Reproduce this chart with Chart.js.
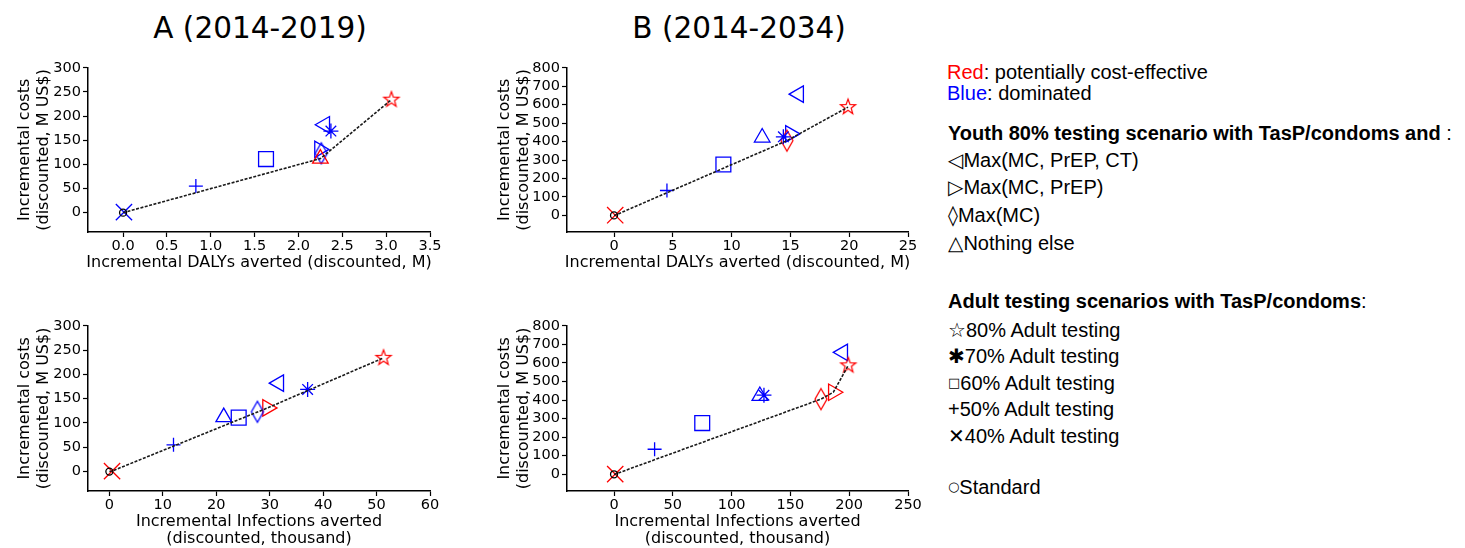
<!DOCTYPE html>
<html>
<head>
<meta charset="utf-8">
<script src="https://cdn.jsdelivr.net/npm/chart.js@4.4.1/dist/chart.umd.min.js"></script>
<style>
  body { margin: 0; background: #fff; overflow: hidden; }
  #page { position: relative; width: 1465px; height: 548px; }
  .panel { position: absolute; }
  .title { position: absolute; top: 10px; width: 400px; text-align: center; font-family: "DejaVu Sans"; font-size: 29.5px; line-height: 36px; color: #000; }
  .key { position: absolute; left: 948px; font-family: "Liberation Sans", Arial, "DejaVu Sans"; font-size: 20px; line-height: 22px; white-space: nowrap; color: #000; }
  .sym { font-family: "DejaVu Sans"; }
  .small { font-size: 13px; position: relative; top: -3px; }
</style>
</head>
<body>
<div id="page">
  <div class="title" style="left: 60px;">A (2014-2019)</div>
  <div class="title" style="left: 539px;">B (2014-2034)</div>

  <div class="panel" style="left: 0px; top: 55px; width: 445px; height: 230px;"><canvas id="dalysA"></canvas></div>
  <div class="panel" style="left: 480px; top: 55px; width: 445px; height: 230px;"><canvas id="dalysB"></canvas></div>
  <div class="panel" style="left: 0px; top: 313px; width: 445px; height: 245px;"><canvas id="infA"></canvas></div>
  <div class="panel" style="left: 480px; top: 313px; width: 445px; height: 245px;"><canvas id="infB"></canvas></div>

  <div class="key" style="top: 61px; left: 947px;"><span style="color:#f00">Red</span>: potentially cost-effective</div>
  <div class="key" style="top: 82px; left: 947px;"><span style="color:#00f">Blue</span>: dominated</div>
  <div class="key" style="top: 122px;"><b>Youth 80% testing scenario with TasP/condoms and</b> :</div>
  <div class="key" style="top: 149px;"><span class="sym">&#9665;</span>Max(MC, PrEP, CT)</div>
  <div class="key" style="top: 176px;"><span class="sym">&#9655;</span>Max(MC, PrEP)</div>
  <div class="key" style="top: 204px;"><span class="sym">&#9674;</span>Max(MC)</div>
  <div class="key" style="top: 232px;"><span class="sym">&#9651;</span>Nothing else</div>
  <div class="key" style="top: 290px;"><b>Adult testing scenarios with TasP/condoms</b>:</div>
  <div class="key" style="top: 319px;"><span class="sym">&#9734;</span>80% Adult testing</div>
  <div class="key" style="top: 345px;"><span class="sym">&#10033;</span>70% Adult testing</div>
  <div class="key" style="top: 372px;"><span class="sym small">&#9633;</span>60% Adult testing</div>
  <div class="key" style="top: 398px;">+50% Adult testing</div>
  <div class="key" style="top: 425px;"><span class="sym">&#10005;</span>40% Adult testing</div>
  <div class="key" style="top: 476px;"><span class="sym small">&#9675;</span>Standard</div>
</div>

<script>
// scenario order used by every array below
const scenarios = ['Max(MC, PrEP, CT)', 'Max(MC, PrEP)', 'Max(MC)', 'Nothing else',
  '80% Adult testing', '70% Adult testing', '60% Adult testing', '50% Adult testing',
  '40% Adult testing', 'Standard'];

// A (2014-2019)
const dalysA      = [2.30, 2.24, 2.26, 2.25, 3.06, 2.37, 1.63, 0.83, 0.01, 0];
const infectionsA = [31.7, 29.6, 27.7, 21.4, 51.3, 37.1, 24.2, 12.0, 0.5, 0];
const costsA      = [182, 131, 123, 112, 234, 169, 111, 55, 1, 0];
const costEffDalysA = [0, 0, 0, 1, 1, 0, 0, 0, 0, 0];
const costEffInfA   = [0, 1, 0, 0, 1, 0, 0, 0, 1, 0];

// B (2014-2034)
const dalysB      = [15.7, 15.0, 14.7, 12.6, 19.9, 14.4, 9.3, 4.5, 0.1, 0];
const infectionsB = [194.5, 186.5, 176, 124, 199.2, 127.5, 75, 34.5, 1, 0];
const costsB      = [657, 442, 405, 422, 587, 426, 276, 135, 1, 0];
const costEffDalysB = [0, 0, 1, 0, 1, 0, 0, 0, 1, 0];
const costEffInfB   = [0, 1, 1, 0, 1, 0, 0, 0, 1, 0];

// tick labels
const dalyTicksA = [0, 0.5, 1, 1.5, 2, 2.5, 3, 3.5];
const dalyTicksB = [0, 5, 10, 15, 20, 25];
const infTicksA = [0, 10, 20, 30, 40, 50, 60];
const infTicksB = [0, 50, 100, 150, 200, 250];
const costTicksA = [0, 50, 100, 150, 200, 250, 300];
const costTicksB = [0, 100, 200, 300, 400, 500, 600, 700, 800];

const RED = '#ff0000';
const BLUE = '#0000ff';
const STANDARD = 9;

function thinDiamond(color) {
    const c = document.createElement('canvas');
    c.width = 16; c.height = 25;
    const g = c.getContext('2d');
    g.strokeStyle = color;
    g.lineWidth = 1.3;
    g.beginPath();
    g.moveTo(8, 2); g.lineTo(14, 12.5); g.lineTo(8, 23); g.lineTo(2, 12.5);
    g.closePath();
    g.stroke();
    return c;
}

function outlineStar(color) {
    const R = 8, r = 3.3, c = document.createElement('canvas');
    c.width = c.height = 2 * R + 4;
    const g = c.getContext('2d');
    const cx = R + 2, cy = R + 2;
    g.strokeStyle = color;
    g.lineWidth = 1.2;
    g.beginPath();
    for (let i = 0; i < 10; i++) {
        const ang = -Math.PI / 2 + i * Math.PI / 5;
        const rad = i % 2 ? r : R;
        const px = cx + Math.cos(ang) * rad, py = cy + Math.sin(ang) * rad;
        if (i === 0) g.moveTo(px, py); else g.lineTo(px, py);
    }
    g.closePath();
    g.stroke();
    return c;
}

// marker per scenario (same order as scenarios)
function markerFor(i, color) {
    switch (i) {
        case 0: return {style: 'triangle', radius: 9.5, rotation: 270};
        case 1: return {style: 'triangle', radius: 9.5, rotation: 90};
        case 2: return {style: thinDiamond(color), radius: 10, rotation: 0};
        case 3: return {style: 'triangle', radius: 9, rotation: 0};
        case 4: return {style: outlineStar(color), radius: 8, rotation: 0};
        case 5: return {style: 'star', radius: 7.5, rotation: 0};
        case 6: return {style: 'rect', radius: 10.5, rotation: 0};
        case 7: return {style: 'cross', radius: 7, rotation: 0};
        case 8: return {style: 'crossRot', radius: 11.5, rotation: 0};
        default: return {style: 'circle', radius: 3.5, rotation: 0};
    }
}

// x-axis titles drawn under the plot area (Chart.js squeezes scale titles to the axis width)
const xTitlePlugin = {
    id: 'xTitle',
    afterDraw(chart, args, opts) {
        const ctx = chart.ctx, area = chart.chartArea;
        ctx.save();
        ctx.font = '16px "DejaVu Sans"';
        ctx.fillStyle = '#000';
        ctx.textAlign = 'center';
        ctx.textBaseline = 'middle';
        opts.lines.forEach((t, i) => {
            ctx.fillText(t, (area.left + area.right) / 2, area.bottom + 31 + i * 17);
        });
        ctx.restore();
    }
};

function makePanel(id, cfg) {
    const colors = scenarios.map((s, i) => i === STANDARD ? '#000' : (cfg.costEff[i] ? RED : BLUE));
    const markers = scenarios.map((s, i) => markerFor(i, colors[i]));
    const points = cfg.x.map((v, i) => ({x: v, y: cfg.y[i]}));

    // frontier: standard + potentially cost-effective scenarios
    const frontier = points
        .filter((p, i) => i === STANDARD || cfg.costEff[i])
        .sort((a, b) => a.x - b.x || a.y - b.y);

    const tickFont = {family: 'DejaVu Sans', size: 14.5};
    const grid = {drawOnChartArea: false, drawTicks: true, tickLength: 5, tickWidth: 1.2, tickColor: '#000'};
    const border = {display: true, color: '#000', width: 1.5};

    new Chart(document.getElementById(id), {
        type: 'scatter',
        data: {
            datasets: [
                {
                    data: frontier,
                    showLine: true,
                    borderColor: '#1a1a1a',
                    borderWidth: 1.6,
                    borderDash: [3, 1.5],
                    pointRadius: 0,
                    fill: false,
                    clip: false
                },
                {
                    data: points,
                    pointStyle: markers.map(m => m.style),
                    pointRadius: markers.map(m => m.radius),
                    pointRotation: markers.map(m => m.rotation),
                    pointBorderColor: colors,
                    pointBackgroundColor: 'rgba(0,0,0,0)',
                    pointBorderWidth: 1.3,
                    clip: false
                }
            ]
        },
        options: {
            responsive: true,
            maintainAspectRatio: false,
            animation: false,
            events: [],
            layout: {padding: {top: 10, right: cfg.rightPad, left: 0, bottom: 0}},
            plugins: {
                legend: {display: false},
                tooltip: {enabled: false},
                xTitle: {lines: cfg.xTitle}
            },
            scales: {
                x: {
                    type: 'linear',
                    min: cfg.xMin,
                    max: cfg.xMax,
                    grid: grid,
                    border: border,
                    afterBuildTicks: s => { s.ticks = cfg.xTicks.map(v => ({value: v})); },
                    afterFit: s => { s.height = cfg.xAxisHeight; },
                    ticks: {
                        color: '#000',
                        font: tickFont,
                        padding: 1,
                        maxRotation: 0,
                        callback: v => v.toFixed(cfg.xDecimals)
                    }
                },
                y: {
                    type: 'linear',
                    min: cfg.yMin,
                    max: cfg.yMax,
                    grid: grid,
                    border: border,
                    afterBuildTicks: s => { s.ticks = cfg.yTicks.map(v => ({value: v})); },
                    afterFit: s => { s.width = cfg.yAxisWidth; },
                    ticks: {color: '#000', font: tickFont, padding: 2},
                    title: {
                        display: true,
                        text: ['Incremental costs', '(discounted, M US$)'],
                        color: '#000',
                        font: {family: 'DejaVu Sans', size: 16, lineHeight: 1.15},
                        padding: {top: 15.8, bottom: 0}
                    }
                }
            }
        },
        plugins: [xTitlePlugin]
    });
}

document.addEventListener('DOMContentLoaded', function() {
    makePanel('dalysA', {
        x: dalysA, y: costsA, costEff: costEffDalysA,
        xMin: -0.4, xMax: 3.5, yMin: -40, yMax: 300,
        xTicks: dalyTicksA, yTicks: costTicksA, xDecimals: 1,
        xTitle: ['Incremental DALYs averted (discounted, M)'],
        yAxisWidth: 88, rightPad: 15, xAxisHeight: 53
    });
    makePanel('dalysB', {
        x: dalysB, y: costsB, costEff: costEffDalysB,
        xMin: -4, xMax: 25, yMin: -90, yMax: 800,
        xTicks: dalyTicksB, yTicks: costTicksB, xDecimals: 0,
        xTitle: ['Incremental DALYs averted (discounted, M)'],
        yAxisWidth: 87, rightPad: 17, xAxisHeight: 53
    });
    makePanel('infA', {
        x: infectionsA, y: costsA, costEff: costEffInfA,
        xMin: -4, xMax: 60, yMin: -40, yMax: 300,
        xTicks: infTicksA, yTicks: costTicksA, xDecimals: 0,
        xTitle: ['Incremental Infections averted', '(discounted, thousand)'],
        yAxisWidth: 88, rightPad: 15, xAxisHeight: 67
    });
    makePanel('infB', {
        x: infectionsB, y: costsB, costEff: costEffInfB,
        xMin: -40, xMax: 250, yMin: -90, yMax: 800,
        xTicks: infTicksB, yTicks: costTicksB, xDecimals: 0,
        xTitle: ['Incremental Infections averted', '(discounted, thousand)'],
        yAxisWidth: 87, rightPad: 17, xAxisHeight: 67
    });
});
</script>
</body>
</html>
